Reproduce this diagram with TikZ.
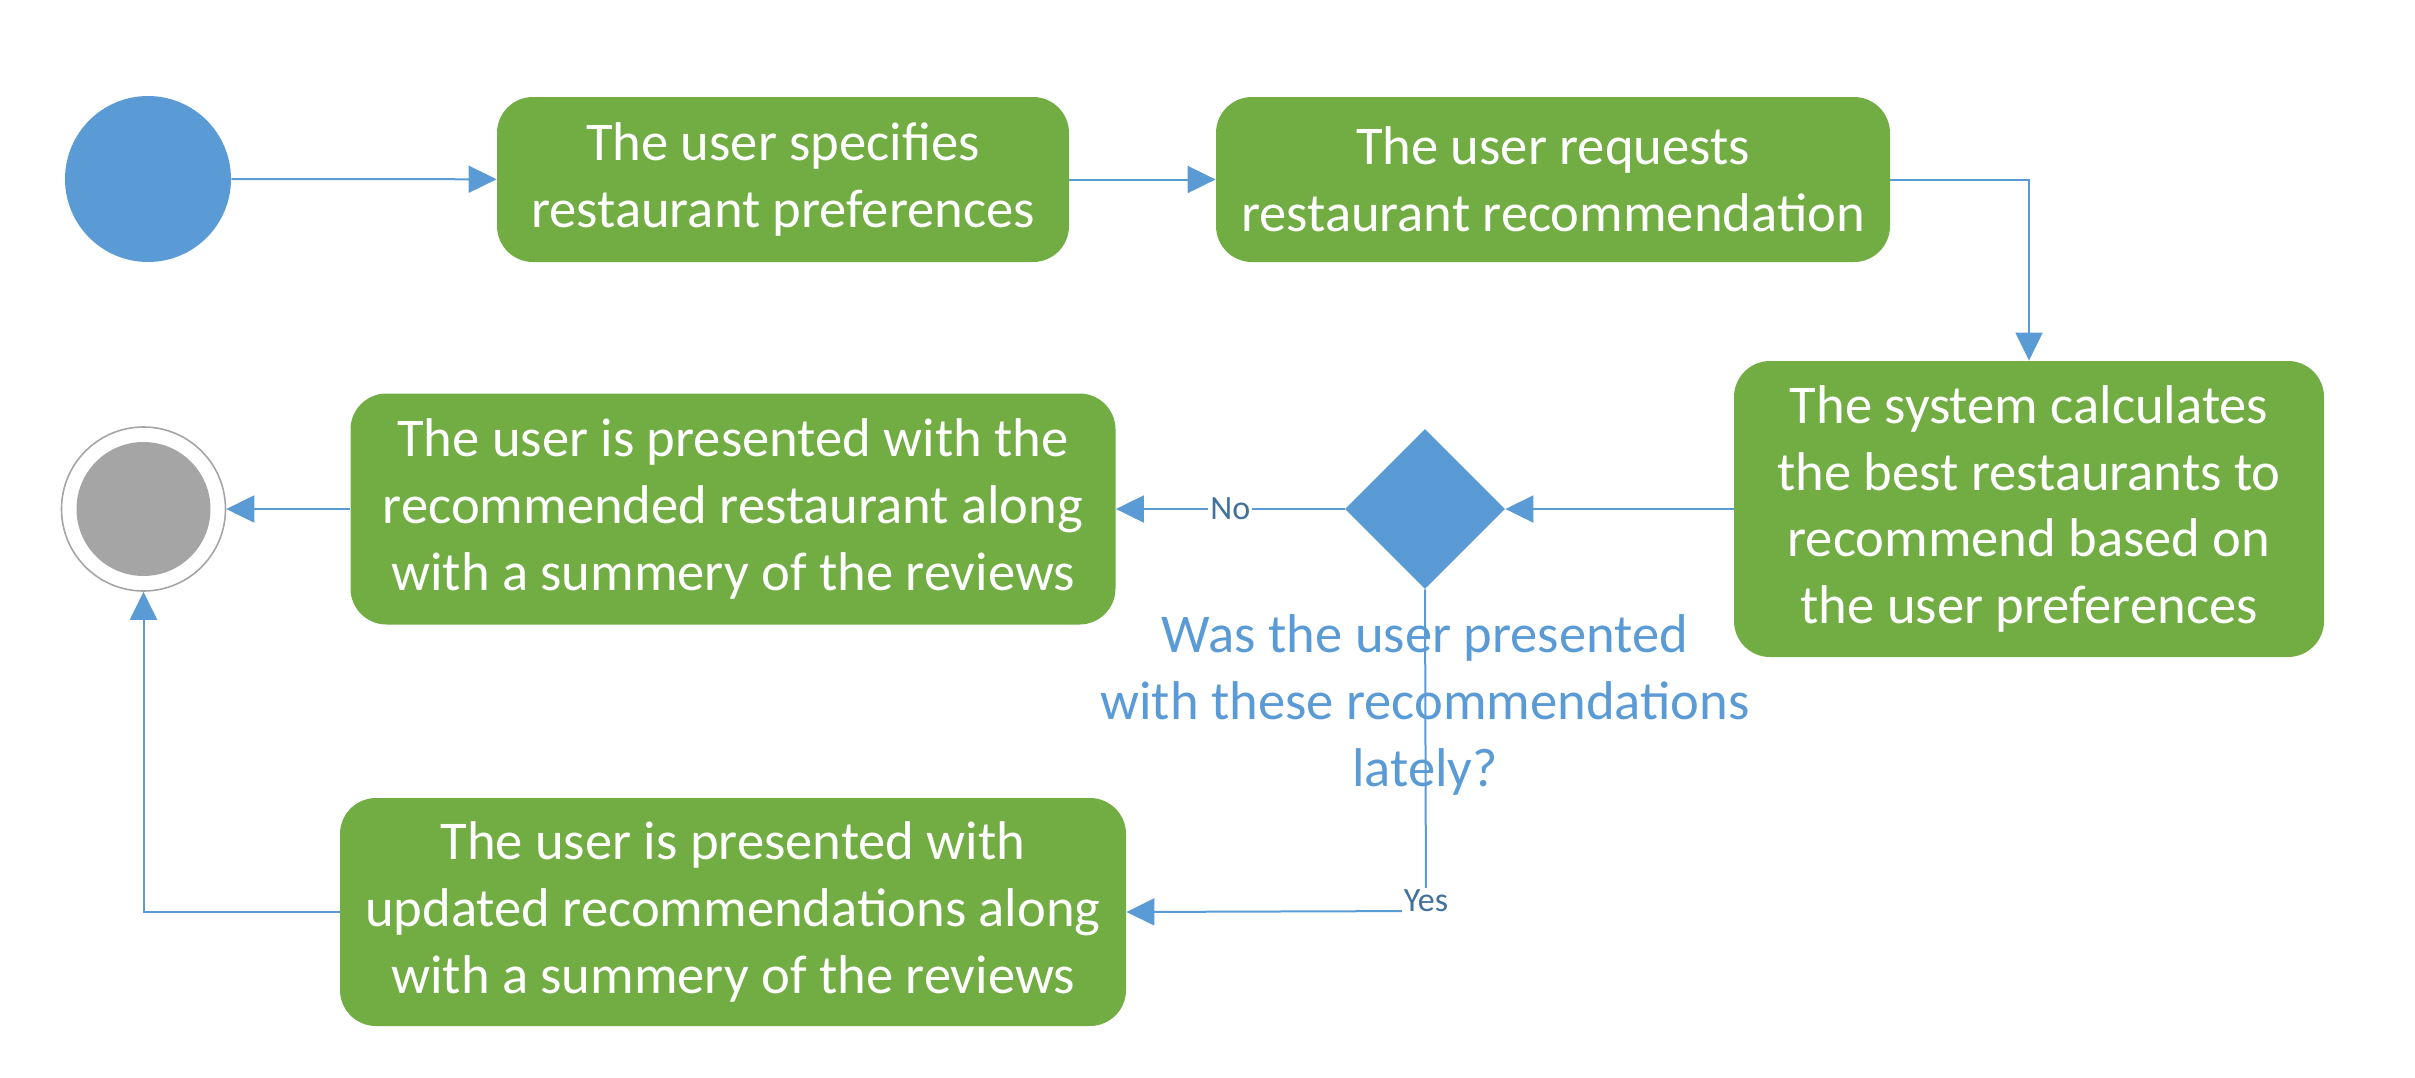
\documentclass[tikz,border=0pt]{standalone}
\usepackage{fontspec}
\setmainfont{Carlito}
\usetikzlibrary{shapes.geometric,arrows.meta}
\definecolor{boxgreen}{RGB}{114,173,68}
\definecolor{flowblue}{RGB}{91,155,213}
\definecolor{labelblue}{RGB}{65,113,156}
\definecolor{endgray}{RGB}{165,165,165}
\tikzset{
  actbox/.style={rectangle, rounded corners=18pt, fill=boxgreen, text=white, align=center,
    font=\fontsize{27.3}{33.3}\selectfont, inner sep=0pt},
  flow/.style={draw=flowblue, line width=1pt, -{Triangle[length=14pt,width=13.5pt]}},
  plainflow/.style={draw=flowblue, line width=1pt},
  edgelabel/.style={fill=white, text=labelblue, font=\fontsize{17}{20}\selectfont, inner sep=1pt}
}
\begin{document}
\begin{tikzpicture}[x=0.5pt,y=-0.5pt]
\useasboundingbox (0,0) rectangle (2415,1077);
\node[circle, fill=flowblue, minimum size=83pt, inner sep=0pt] (start) at (148,179) {};
\node[actbox, minimum width=286pt, minimum height=82.5pt] (b1) at (783,179.5) {The user specifies\\restaurant preferences};
\node[actbox, minimum width=337pt, minimum height=82.5pt] (b2) at (1553,179.5) {The user requests\\restaurant recommendation};
\node[actbox, minimum width=295pt, minimum height=148pt] (b3) at (2029,509) {The system calculates\\the best restaurants to\\recommend based on\\the user preferences};
\node[diamond, fill=flowblue, minimum width=80pt, minimum height=80pt, inner sep=0pt] (dec) at (1425,509) {};
\node[text=flowblue, align=center, font=\fontsize{27.3}{33.3}\selectfont] (qtext) at (1425,705) {Was the user presented\\with these recommendations\\lately?};
\node[actbox, minimum width=382.5pt, minimum height=115.5pt] (b4) at (733,509) {The user is presented with the\\recommended restaurant along\\with a summery of the reviews};
\node[actbox, minimum width=393pt, minimum height=114pt] (b5) at (733,912) {The user is presented with\\updated recommendations along\\with a summery of the reviews};
\node[circle, draw=endgray, line width=0.8pt, fill=white, minimum size=82pt, inner sep=0pt] (end) at (143.5,509) {};
\node[circle, fill=endgray, minimum size=67pt, inner sep=0pt] (endin) at (143.5,509) {};
\coordinate (corner) at (1426,911);

\draw[flow] (start) -- (b1);
\draw[flow] (b1) -- (b2);
\draw[flow] (b2.east) -| (b3.north);
\draw[flow] (b3) -- (dec);
\draw[flow] (dec) -- node[edgelabel, pos=0.5] (nolab) {No} (b4);
\draw[plainflow] (dec.south) -- (corner);
\draw[flow] (corner) -- (b5.east);
\node[edgelabel] (yeslab) at (corner) [yshift=5pt] {Yes};
\draw[flow] (b4) -- (end);
\draw[flow] (b5.west) -| (end.south);
\end{tikzpicture}
\end{document}
